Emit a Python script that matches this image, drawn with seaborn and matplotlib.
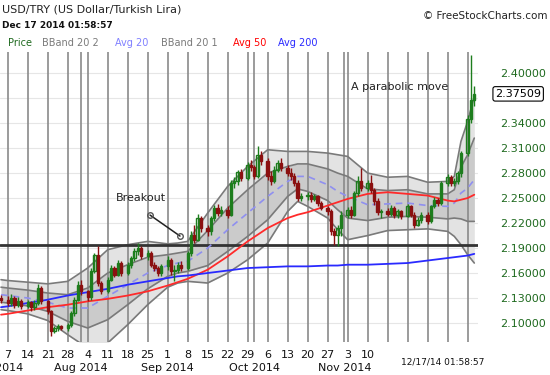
import matplotlib
matplotlib.use("Agg")
import matplotlib.pyplot as plt
import seaborn as sns
import numpy as np
import pandas as pd

# daily candles, Jul 4 .. Dec 17 2014 (business days)
days = pd.bdate_range("2014-07-04", "2014-12-17")

opens = [2.130,
         2.128, 2.124, 2.130, 2.122, 2.127,
         2.121, 2.125, 2.119, 2.124, 2.142,
         2.126, 2.114, 2.090, 2.094, 2.096,
         2.094, 2.098, 2.112, 2.128, 2.146,
         2.138, 2.131, 2.163, 2.182, 2.148,
         2.138, 2.152, 2.166, 2.158, 2.172,
         2.160, 2.170, 2.178, 2.186, 2.190,
         2.180, 2.184, 2.170, 2.166, 2.160,
         2.168, 2.176, 2.162, 2.164, 2.170,
         2.166, 2.184, 2.206, 2.200, 2.226,
         2.214, 2.210, 2.226, 2.238, 2.232,
         2.236, 2.230, 2.268, 2.270, 2.281,
         2.274, 2.290, 2.287, 2.276, 2.302,
         2.294, 2.276, 2.270, 2.284, 2.292,
         2.286, 2.280, 2.276, 2.268, 2.250,
         2.253, 2.254, 2.249, 2.252, 2.244,
         2.238, 2.234, 2.210, 2.206, 2.214,
         2.230, 2.236, 2.230, 2.256, 2.270,
         2.262, 2.268, 2.260, 2.246, 2.233,
         2.234, 2.231, 2.238, 2.230, 2.234,
         2.229, 2.240, 2.230, 2.218, 2.224,
         2.230, 2.222, 2.240, 2.248, 2.244,
         2.268, 2.275, 2.268, 2.270, 2.280,
         2.304, 2.345, 2.368]
highs = [2.134,
         2.132, 2.135, 2.133, 2.131, 2.129,
         2.128, 2.127, 2.128, 2.147, 2.144,
         2.128, 2.116, 2.097, 2.099, 2.098,
         2.100, 2.114, 2.131, 2.150, 2.152,
         2.140, 2.166, 2.184, 2.193, 2.151,
         2.155, 2.170, 2.168, 2.176, 2.175,
         2.173, 2.181, 2.190, 2.196, 2.193,
         2.188, 2.186, 2.173, 2.169, 2.171,
         2.180, 2.178, 2.170, 2.173, 2.174,
         2.187, 2.210, 2.218, 2.231, 2.229,
         2.218, 2.229, 2.242, 2.243, 2.240,
         2.240, 2.272, 2.275, 2.284, 2.285,
         2.293, 2.296, 2.290, 2.312, 2.306,
         2.298, 2.282, 2.288, 2.296, 2.298,
         2.290, 2.286, 2.280, 2.272, 2.256,
         2.257, 2.257, 2.255, 2.254, 2.247,
         2.240, 2.237, 2.214, 2.218, 2.234,
         2.239, 2.240, 2.258, 2.276, 2.286,
         2.272, 2.278, 2.262, 2.250, 2.237,
         2.238, 2.242, 2.241, 2.237, 2.236,
         2.243, 2.242, 2.233, 2.227, 2.233,
         2.233, 2.242, 2.251, 2.250, 2.270,
         2.279, 2.278, 2.274, 2.283, 2.307,
         2.350, 2.422, 2.384]
lows = [2.124,
        2.120, 2.121, 2.118, 2.119, 2.117,
        2.118, 2.115, 2.116, 2.122, 2.123,
        2.111, 2.085, 2.088, 2.091, 2.092,
        2.091, 2.095, 2.109, 2.126, 2.134,
        2.127, 2.128, 2.160, 2.145, 2.135,
        2.136, 2.150, 2.155, 2.156, 2.157,
        2.158, 2.166, 2.175, 2.182, 2.177,
        2.176, 2.167, 2.162, 2.156, 2.157,
        2.164, 2.158, 2.150, 2.160, 2.162,
        2.164, 2.181, 2.196, 2.198, 2.209,
        2.205, 2.206, 2.222, 2.229, 2.228,
        2.226, 2.228, 2.262, 2.266, 2.270,
        2.272, 2.283, 2.273, 2.274, 2.290,
        2.272, 2.266, 2.268, 2.281, 2.283,
        2.276, 2.272, 2.264, 2.246, 2.247,
        2.248, 2.245, 2.246, 2.241, 2.236,
        2.230, 2.206, 2.194, 2.192, 2.205,
        2.226, 2.226, 2.228, 2.252, 2.258,
        2.258, 2.256, 2.242, 2.230, 2.226,
        2.228, 2.229, 2.226, 2.226, 2.225,
        2.227, 2.227, 2.214, 2.216, 2.220,
        2.219, 2.220, 2.238, 2.241, 2.242,
        2.264, 2.264, 2.265, 2.267, 2.275,
        2.300, 2.340, 2.360]
closes = [2.128,
          2.124, 2.130, 2.122, 2.127, 2.121,
          2.125, 2.119, 2.124, 2.142, 2.126,
          2.114, 2.090, 2.094, 2.096, 2.094,
          2.098, 2.112, 2.128, 2.146, 2.138,
          2.131, 2.163, 2.182, 2.148, 2.138,
          2.152, 2.166, 2.158, 2.172, 2.160,
          2.170, 2.178, 2.186, 2.190, 2.180,
          2.184, 2.170, 2.166, 2.160, 2.168,
          2.176, 2.162, 2.164, 2.170, 2.166,
          2.184, 2.206, 2.200, 2.226, 2.214,
          2.210, 2.226, 2.238, 2.232, 2.236,
          2.230, 2.268, 2.270, 2.281, 2.274,
          2.290, 2.287, 2.276, 2.302, 2.294,
          2.276, 2.270, 2.284, 2.292, 2.286,
          2.280, 2.276, 2.268, 2.250, 2.253,
          2.254, 2.249, 2.252, 2.244, 2.238,
          2.234, 2.210, 2.206, 2.214, 2.230,
          2.236, 2.230, 2.256, 2.270, 2.262,
          2.268, 2.260, 2.246, 2.233, 2.234,
          2.231, 2.238, 2.230, 2.234, 2.229,
          2.240, 2.230, 2.218, 2.224, 2.230,
          2.222, 2.240, 2.248, 2.244, 2.268,
          2.275, 2.268, 2.270, 2.280, 2.304,
          2.345, 2.368, 2.37509]

# indicator lines
ind_dates = ["2014-07-04", "2014-07-07", "2014-07-14", "2014-07-21", "2014-07-28",
             "2014-08-04", "2014-08-11", "2014-08-18", "2014-08-25", "2014-09-01",
             "2014-09-04", "2014-09-08", "2014-09-15", "2014-09-22", "2014-09-29",
             "2014-10-06", "2014-10-13", "2014-10-16", "2014-10-20", "2014-10-27",
             "2014-10-30", "2014-11-03", "2014-11-10", "2014-11-17", "2014-11-24",
             "2014-12-01", "2014-12-08", "2014-12-10", "2014-12-12", "2014-12-15",
             "2014-12-17"]
avg20 = [2.134, 2.133, 2.130, 2.125, 2.118, 2.118, 2.132, 2.146, 2.160, 2.169,
         2.172, 2.174, 2.190, 2.212, 2.232, 2.252, 2.270, 2.276, 2.276, 2.266,
         2.258, 2.252, 2.242, 2.243, 2.244, 2.241, 2.240, 2.244, 2.256, 2.262,
         2.272]
bb_up2 = [2.152, 2.151, 2.149, 2.147, 2.150, 2.166, 2.188, 2.194, 2.198, 2.195,
          2.196, 2.198, 2.232, 2.264, 2.288, 2.308, 2.306, 2.306, 2.306, 2.304,
          2.302, 2.300, 2.280, 2.275, 2.276, 2.269, 2.270, 2.276, 2.318, 2.342,
          2.372]
bb_up1 = [2.143, 2.142, 2.1395, 2.136, 2.134, 2.142, 2.160, 2.170, 2.179, 2.182,
          2.184, 2.186, 2.211, 2.238, 2.260, 2.280, 2.288, 2.291, 2.291, 2.285,
          2.280, 2.276, 2.261, 2.259, 2.260, 2.255, 2.255, 2.260, 2.287, 2.302,
          2.322]
bb_lo1 = [2.125, 2.124, 2.1205, 2.114, 2.102, 2.094, 2.104, 2.122, 2.141, 2.156,
          2.160, 2.162, 2.169, 2.186, 2.204, 2.224, 2.252, 2.261, 2.258, 2.247,
          2.236, 2.226, 2.223, 2.227, 2.228, 2.227, 2.225, 2.226, 2.225, 2.222,
          2.222]
bb_lo2 = [2.116, 2.115, 2.111, 2.103, 2.086, 2.070, 2.076, 2.098, 2.122, 2.143,
          2.148, 2.150, 2.148, 2.160, 2.176, 2.196, 2.234, 2.246, 2.240, 2.226,
          2.212, 2.200, 2.205, 2.211, 2.212, 2.213, 2.210, 2.204, 2.194, 2.182,
          2.172]
avg50 = [2.110, 2.111, 2.115, 2.119, 2.122, 2.126, 2.129, 2.133, 2.138, 2.145,
         2.149, 2.153, 2.164, 2.180, 2.198, 2.214, 2.226, 2.230, 2.233, 2.241,
         2.245, 2.249, 2.255, 2.257, 2.255, 2.253, 2.247, 2.246, 2.248, 2.250,
         2.254]
avg200 = [2.119, 2.120, 2.124, 2.128, 2.133, 2.137, 2.141, 2.146, 2.150, 2.154,
          2.156, 2.157, 2.160, 2.163, 2.166, 2.167, 2.168, 2.168, 2.168, 2.169,
          2.169, 2.170, 2.170, 2.171, 2.172, 2.175, 2.178, 2.179, 2.180, 2.181,
          2.183]

support = 2.1936
y_ticks = [2.10, 2.13, 2.16, 2.19, 2.22, 2.25, 2.28, 2.31, 2.34, 2.37, 2.40]
last_price = 2.37509


def slot(d):
    # six slots a week (Sun..Fri), weeks counted from Sun Jul 6
    d = pd.Timestamp(d)
    week = (d - pd.Timestamp("2014-07-06")).days // 7
    return week * 6 + (d.dayofweek + 1) % 7


df = pd.DataFrame({"x": [slot(d) for d in days], "o": opens, "h": highs,
                   "l": lows, "c": closes})
ind = pd.DataFrame({"x": [slot(d) for d in ind_dates], "avg20": avg20,
                    "up2": bb_up2, "up1": bb_up1, "lo1": bb_lo1, "lo2": bb_lo2,
                    "avg50": avg50, "avg200": avg200})

sns.set_theme(style="white")
plt.rcParams["font.family"] = ["DejaVu Sans"]

fig = plt.figure(figsize=(5.5, 3.75), dpi=100)
ax = fig.add_axes([0, 0.088, 0.869, 0.773])

# bollinger bands
ax.fill_between(ind["x"], ind["lo2"], ind["up2"], color="#e3e3e3", zorder=1, lw=0)
ax.fill_between(ind["x"], ind["lo1"], ind["up1"], color="#cbcbcb", zorder=1.1, lw=0)
for col in ["up2", "up1", "lo1", "lo2"]:
    sns.lineplot(data=ind, x="x", y=col, ax=ax, color="#7a7a7a", lw=1.2, zorder=2)

# grid
for t in y_ticks:
    ax.axhline(t, color="#e6e6e6", lw=0.8, zorder=0.5)
mondays = pd.date_range("2014-07-07", "2014-12-15", freq="W-MON")
for d in mondays:
    ax.axvline(slot(d), color="#8a8a8a", lw=1.2, zorder=1.5)
for d in ["2014-08-01", "2014-10-01", "2014-11-02"]:
    ax.axvline(slot(d), color="#8a8a8a", lw=1.2, zorder=1.5)

ax.axhline(support, color="#333333", lw=2, zorder=3)

sns.lineplot(data=ind, x="x", y="avg20", ax=ax, color="#8f8ff0", lw=1.2,
             dashes=(4, 3), zorder=3)
sns.lineplot(data=ind, x="x", y="avg50", ax=ax, color="#ff2a2a", lw=1.3, zorder=3)
sns.lineplot(data=ind, x="x", y="avg200", ax=ax, color="#2a2aff", lw=1.3, zorder=3)

# candles
up = df[df["c"] >= df["o"]]
dn = df[df["c"] < df["o"]]
ax.vlines(up["x"], up["l"], up["h"], color="#1d7d1d", lw=1, zorder=4)
ax.vlines(dn["x"], dn["l"], dn["h"], color="#8b1010", lw=1, zorder=4)
ax.bar(up["x"], np.maximum(up["c"] - up["o"], 0.0008), bottom=up["o"], width=0.7,
       facecolor="none", edgecolor="#1d7d1d", lw=1, zorder=5)
ax.bar(dn["x"], np.maximum(dn["o"] - dn["c"], 0.0008), bottom=dn["c"], width=0.7,
       facecolor="#8b1010", edgecolor="#8b1010", lw=1, zorder=5)

ax.set_xlim(-1.31, 142.1)
ax.set_ylim(2.0772, 2.4252)
for s in ax.spines.values():
    s.set_visible(False)
ax.set_xlabel("")
ax.set_ylabel("")

ax.yaxis.tick_right()
ax.set_yticks(y_ticks)
ax.set_yticklabels(["" if abs(t - 2.37) < 1e-9 else f"{t:.5f}" for t in y_ticks])
ax.tick_params(axis="y", length=0, pad=16, labelsize=8, labelcolor="#1f6a1f")

shown = [d for d in mondays if d <= pd.Timestamp("2014-11-10")]
ax.set_xticks([slot(d) for d in shown])
ax.set_xticklabels([str(d.day) for d in shown])
ax.tick_params(axis="x", length=0, pad=6, labelsize=8, labelcolor="#111111")

trans = ax.get_xaxis_transform()
for d, lab in [("2014-07-04", "Jul 2014"), ("2014-08-01", "Aug 2014"),
               ("2014-09-01", "Sep 2014"), ("2014-10-01", "Oct 2014"),
               ("2014-11-02", "Nov 2014")]:
    ax.text(slot(d), -0.09, lab, transform=trans, ha="center", va="center",
            fontsize=8, color="#111111", clip_on=False)

# price tag
ax.text(1.036, last_price, f"{last_price:.5f}", transform=ax.get_yaxis_transform(),
        ha="left", va="center", fontsize=8, color="black",
        bbox=dict(boxstyle="round,pad=0.2", fc="white", ec="black", lw=0.8))

# annotations
ax.text(41, 2.250, "Breakout", ha="center", va="center", fontsize=8, color="#222222", zorder=6)
ax.plot([43.7, 52.7], [2.2296, 2.2044], color="#222222", lw=1.1, zorder=6)
ax.plot([43.7, 52.7], [2.2296, 2.2044], "o", ms=4, mfc="none", mec="#555555", zorder=6)
ax.text(118.7, 2.3832, "A parabolic move", ha="center", va="center", fontsize=8,
        color="#222222", zorder=6)

# header
fig.text(0.004, 1 - 9 / 375, "USD/TRY (US Dollar/Turkish Lira)", fontsize=8,
         va="center", color="#222222")
fig.text(0.004, 1 - 25 / 375, "Dec 17 2014 01:58:57", fontsize=6.5, va="center",
         color="#111111", fontweight="bold")
fig.text(0.996, 1 - 16 / 375, "\u00a9 FreeStockCharts.com", fontsize=7.5, ha="right",
         va="center", color="#222222")
for x0, lab, col in [(8, "Price", "#1f6a1f"), (42, "BBand 20 2", "#7a7a7a"),
                     (115, "Avg 20", "#8080ff"), (161, "BBand 20 1", "#7a7a7a"),
                     (233, "Avg 50", "#ff0000"), (278, "Avg 200", "#2a2aff")]:
    fig.text(x0 / 550, 1 - 43 / 375, lab, fontsize=7, va="center", color=col)
fig.text(443 / 550, 1 - 362 / 375, "12/17/14 01:58:57", fontsize=6.5, ha="center",
         va="center", color="#111111")

fig.savefig("out.png", dpi=100)
